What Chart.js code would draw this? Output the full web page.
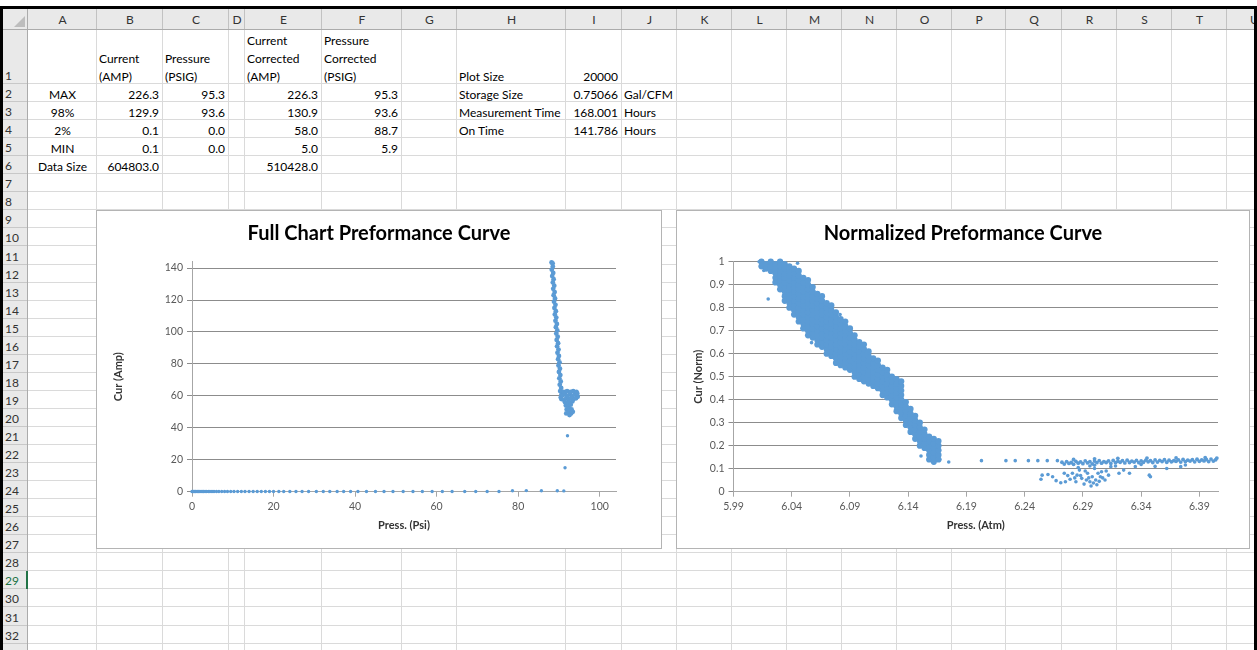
<!DOCTYPE html>
<html><head><meta charset="utf-8">
<script src="https://cdn.jsdelivr.net/npm/chart.js@4.4.1/dist/chart.umd.min.js"></script>
<style>
html,body{margin:0;padding:0;background:#fff;}
body{width:1257px;height:650px;overflow:hidden;position:relative;font-family:Lato,'Open Sans',sans-serif;}
.a{position:absolute;}
.t{position:absolute;font-size:12px;line-height:18px;height:18px;color:#000;white-space:nowrap;}
.box{position:absolute;background:#fff;border:1px solid #b4b4b4;z-index:5;}
.box canvas{position:absolute;left:0;top:0;}
</style></head><body>
<div id="sheet"></div>
<div class="box" style="left:96px;top:210px;width:564px;height:337px;"><canvas id="c1" width="564" height="337"></canvas></div>
<div class="box" style="left:676px;top:210px;width:572px;height:337px;"><canvas id="c2" width="572" height="337"></canvas></div>
<script>
// ---------- Spreadsheet cell contents ----------
const statLabels = ['MAX','98%','2%','MIN','Data Size'];
const currentAmp = ['226.3','129.9','0.1','0.1','604803.0'];
const pressurePsig = ['95.3','93.6','0.0','0.0',''];
const currentCorr = ['226.3','130.9','58.0','5.0','510428.0'];
const pressureCorr = ['95.3','93.6','88.7','5.9',''];
const infoLabels = ['Plot Size','Storage Size','Measurement Time','On Time'];
const infoValues = ['20000','0.75066','168.001','141.786'];
const infoUnits = ['','Gal/CFM','Hours','Hours'];

// ---------- Chart 1: Full Chart Preformance Curve ----------
const fullXTicks = [0,20,40,60,80,100];
const fullYTicks = [0,20,40,60,80,100,120,140];
const fullIdlePress = [0,0.2,0.4,0.6,0.8,1.0,1.3,1.6,1.9,2.2,2.5,2.8,3.2,3.6,4.0,4.4,4.9,5.4,6.0,6.6,7.3,8.0,8.7,9.5,10.3,11.2,12.1,13.0,14.0,15.0,16.0,17.0,18.0,19.0,20.0,21.3,22.5,24.0,25.5,27.0,28.6,30.5,32.2,33.8,35.6,37.2,38.9,40.7,42.8,45.0,47.1,49.3,51.8,54.2,56.5,58.9,61.4,63.8,66.9,69.6,72.4,75.3,78.6,82.0,85.7,89.6,91.2,92.1,91.5];
const fullIdleCur = [0.1,0.1,0.1,0.1,0.1,0.1,0.1,0.1,0.1,0.1,0.1,0.1,0.1,0.1,0.1,0.1,0.1,0.1,0.1,0.1,0.1,0.1,0.1,0.1,0.1,0.1,0.1,0.1,0.1,0.1,0.1,0.1,0.1,0.1,0.1,0.1,0.1,0.1,0.1,0.1,0.1,0.1,0.1,0.1,0.1,0.1,0.1,0.1,0.1,0.1,0.1,0.1,0.1,0.1,0.1,0.1,0.1,0.1,0.1,0.1,0.1,0.1,0.6,0.7,0.6,0.6,0.5,35,15];
const fullRunPress = [88.2,88.45,88.5,88.25,88.6,88.35,88.7,88.5,88.85,88.6,88.95,88.7,89.05,88.8,89.15,88.9,89.25,89.0,89.35,89.15,89.5,89.25,89.6,89.35,89.7,89.45,89.8,89.55,89.9,89.65,90.0,89.8,90.15,89.9,90.25,90.0,90.35,90.1,90.45,90.2,90.55,90.3,90.65,90.45,
  90.6,91.2,91.8,92.4,93.0,93.6,94.2,94.6,90.9,91.5,92.1,92.7,93.3,93.9,94.5,91.2,92.0,92.8,93.5,94.3,91.5,92.4,93.3,
  91.7,92.3,92.9,91.9,92.5,93.1,91.8,92.4,93.0,92.6,93.4];
const fullRunCur = [143.5,143,141,139,137,135,133,131,129,127,125,123,121,119,117,115,113,111,109,107,105,103,101,99,97,95,93,91,89,87,85,83,81,79,77,75,73,71,69,67,65,63,61,59,
  58,57.5,58.5,58,58.5,58,58.5,59.5,60.5,61,60,61,60,61,61.5,62.5,63,62.5,63,62.5,56,56,56.5,
  54,54,54.5,51.5,52,51.5,49,49.5,49,48,50];

// ---------- Chart 2: Normalized Preformance Curve ----------
const normXTicks = [5.99,6.04,6.09,6.14,6.19,6.24,6.29,6.34,6.39];
const normYTicks = [0,0.1,0.2,0.3,0.4,0.5,0.6,0.7,0.8,0.9,1];
const normBandPress = [6.014,6.018,6.022,6.026,6.030,6.034,6.038,6.042,6.046,6.050,6.054,6.058,6.062,6.066,6.070,6.074,6.078,6.082,6.086,6.090,6.094,6.098,6.102,6.106,6.110,6.114,6.118,6.122,6.126,6.130,6.134,6.138,6.142,6.146,6.150,6.154,6.158,6.162,6.166];
const normBandCur = [
  [0.98,1.0],
  [0.97,0.99],
  [0.96,0.98,1.0],
  [0.91,0.93,0.95,0.97,0.99],
  [0.88,0.90,0.92,0.94,0.96,0.98,1.0],
  [0.83,0.85,0.87,0.89,0.91,0.93,0.95,0.97,0.99],
  [0.80,0.82,0.84,0.86,0.88,0.90,0.92,0.94,0.96,0.98],
  [0.77,0.79,0.81,0.83,0.85,0.87,0.89,0.91,0.93,0.95,0.97],
  [0.74,0.76,0.78,0.80,0.82,0.84,0.86,0.88,0.90,0.92,0.94,0.96],
  [0.71,0.73,0.75,0.77,0.79,0.81,0.83,0.85,0.87,0.89,0.91,0.93],
  [0.68,0.70,0.72,0.74,0.76,0.78,0.80,0.82,0.84,0.86,0.88,0.90,0.92],
  [0.67,0.69,0.71,0.73,0.75,0.77,0.79,0.81,0.83,0.85,0.87,0.89],
  [0.64,0.66,0.68,0.70,0.72,0.74,0.76,0.78,0.80,0.82,0.84,0.86],
  [0.63,0.65,0.67,0.69,0.71,0.73,0.75,0.77,0.79,0.81,0.83,0.85],
  [0.60,0.62,0.64,0.66,0.68,0.70,0.72,0.74,0.76,0.78,0.80,0.82],
  [0.59,0.61,0.63,0.65,0.67,0.69,0.71,0.73,0.75,0.77,0.79,0.81],
  [0.56,0.58,0.60,0.62,0.64,0.66,0.68,0.70,0.72,0.74,0.76,0.78],
  [0.55,0.57,0.59,0.61,0.63,0.65,0.67,0.69,0.71,0.73,0.75],
  [0.54,0.56,0.58,0.60,0.62,0.64,0.66,0.68,0.70,0.72,0.74],
  [0.53,0.55,0.57,0.59,0.61,0.63,0.65,0.67,0.69,0.71],
  [0.50,0.52,0.54,0.56,0.58,0.60,0.62,0.64,0.66,0.68],
  [0.49,0.51,0.53,0.55,0.57,0.59,0.61,0.63,0.65],
  [0.48,0.50,0.52,0.54,0.56,0.58,0.60,0.62,0.64],
  [0.47,0.49,0.51,0.53,0.55,0.57,0.59,0.61],
  [0.46,0.48,0.50,0.52,0.54,0.56,0.58],
  [0.45,0.47,0.49,0.51,0.53,0.55,0.57],
  [0.42,0.44,0.46,0.48,0.50,0.52,0.54],
  [0.41,0.43,0.45,0.47,0.49,0.51,0.53],
  [0.38,0.40,0.42,0.44,0.46,0.48,0.50],
  [0.35,0.37,0.39,0.41,0.43,0.45,0.47,0.49],
  [0.32,0.34,0.36,0.38,0.40,0.42,0.44,0.46,0.48],
  [0.29,0.31,0.33,0.35,0.37,0.39],
  [0.26,0.28,0.30,0.32,0.34,0.36],
  [0.23,0.25,0.27,0.29,0.31,0.33],
  [0.20,0.22,0.24,0.26,0.28,0.30],
  [0.19,0.21,0.23,0.25,0.27],
  [0.14,0.16,0.18,0.20,0.22,0.24],
  [0.13,0.15,0.17,0.19,0.21,0.23],
  [0.14,0.16,0.18,0.20,0.22]
];
const normStrayPress = [6.012,6.016,6.0198,6.045,6.049,6.057,6.0815,6.1335,6.151,6.1748,6.167,6.2029,6.2239,6.2319,6.2432,6.2513,6.2594,6.2681];
const normStrayCur = [1.0,0.962,0.838,0.993,0.71,0.648,0.77,0.478,0.155,0.129,0.14,0.135,0.135,0.135,0.135,0.135,0.135,0.135];
const normFlatPress = [6.272,6.276,6.280,6.284,6.288,6.292,6.296,6.300,6.304,6.308,6.312,6.316,6.320,6.324,6.328,6.332,6.336,6.340,6.344,6.348,6.352,6.356,6.360,6.364,6.368,6.372,6.376,6.380,6.384,6.388,6.392,6.396,6.400,6.404,
  6.274,6.278,6.282,6.286,6.290,6.294,6.298,6.302,6.306,6.310,6.314,6.318,6.322,6.326,6.330,6.334,6.338,6.342,6.346,6.350,6.354,6.358,6.362,6.366,6.370,6.374,6.378,6.382,6.386,6.390,6.394,6.398,6.402,
  6.282,6.300,6.320,6.345,6.370,6.395,6.405];
const normFlatCur = [0.128,0.131,0.127,0.132,0.130,0.134,0.131,0.133,0.135,0.131,0.134,0.136,0.132,0.135,0.137,0.133,0.136,0.134,0.137,0.135,0.138,0.136,0.139,0.137,0.135,0.138,0.140,0.137,0.139,0.141,0.138,0.140,0.142,0.139,
  0.120,0.123,0.119,0.124,0.122,0.125,0.121,0.126,0.124,0.127,0.123,0.126,0.128,0.125,0.127,0.129,0.126,0.128,0.130,0.127,0.129,0.131,0.128,0.130,0.132,0.129,0.131,0.133,0.130,0.132,0.134,0.131,0.133,
  0.140,0.143,0.145,0.146,0.147,0.148,0.146];
const normLowPress = [6.254,6.255,6.260,6.264,6.267,6.271,6.275,6.274,6.279,6.281,6.284,6.285,6.287,6.289,6.291,6.293,6.294,6.296,6.297,6.298,6.300,6.301,6.303,6.305,6.306,6.309,6.312,6.314,6.321,6.325,6.330,6.335,6.347,6.348,6.362,6.374,
  6.288,6.292,6.295,6.299,6.302,6.304,6.307,6.283,6.277,6.286,6.296,6.310,6.300,6.318,6.340,6.352,6.378];
const normLowCur = [0.054,0.072,0.075,0.065,0.048,0.039,0.043,0.080,0.054,0.080,0.043,0.072,0.094,0.058,0.033,0.051,0.080,0.043,0.025,0.065,0.101,0.051,0.080,0.065,0.087,0.051,0.072,0.109,0.080,0.094,0.080,0.109,0.072,0.065,0.101,0.109,
  0.070,0.090,0.060,0.038,0.030,0.045,0.060,0.060,0.070,0.105,0.112,0.090,0.115,0.112,0.118,0.110,0.116];

// ---------- Spreadsheet drawing ----------
const sheet = document.getElementById('sheet');
function el(cls, style, text){ const d=document.createElement('div'); d.className=cls; Object.assign(d.style, style); if(text!==undefined) d.textContent=text; sheet.appendChild(d); return d; }
const colEdges=[3,28,97,163,229,245,322,402,457,566,622,677,732,787,842,897,952,1006,1062,1117,1172,1227,1282];
const colNames='ABCDEFGHIJKLMNOPQRSTU'.split('');
const rowEdges=[9,30,84]; for(let r=3;r<=36;r++) rowEdges.push(84+(r-2)*18.05);
const px=v=>v+'px';
el('a',{left:px(3),top:px(9),width:px(1254),height:px(21),background:'#e9e9e9'});
el('a',{left:px(3),top:px(30),width:px(25),height:px(620),background:'#e9e9e9'});
for(let i=2;i<colEdges.length;i++){
  el('a',{left:px(colEdges[i]-1),top:px(30),width:px(1),height:px(620),background:'#dadada'});
  el('a',{left:px(colEdges[i]-1),top:px(9),width:px(1),height:px(21),background:'#c2c2c2'});
}
for(let r=2;r<rowEdges.length;r++){
  const y=Math.round(rowEdges[r])-1;
  el('a',{left:px(28),top:px(y),width:px(1229),height:px(1),background:'#dadada'});
  el('a',{left:px(3),top:px(y),width:px(25),height:px(1),background:'#c8c8c8'});
}
el('a',{left:px(3),top:px(29),width:px(1254),height:px(1),background:'#ababab'});
el('a',{left:px(27),top:px(9),width:px(1),height:px(641),background:'#ababab'});
el('a',{left:px(14),top:px(16),width:'0',height:'0',borderLeft:'11px solid transparent',borderBottom:'11px solid #bdbdbd'});
colNames.forEach((n,i)=>{
  const l=colEdges[i+1], w=colEdges[i+2]-colEdges[i+1];
  el('t',{left:px(l),top:px(11),width:px(w),textAlign:'center',color:'#333'},n);
});
for(let r=1;r<=33;r++){
  const bottom=rowEdges[r+1];
  el('t',{left:px(5),top:px(bottom-18+1),color: r===29?'#217346':'#333'},String(r));
}
el('a',{left:px(26),top:px(Math.round(rowEdges[29])),width:px(2),height:px(18),background:'#217346'});
function cell(c,r,text,align,lineOffset){
  const l=colEdges[c+1], rgt=colEdges[c+2];
  const top=rowEdges[r+1]-18+1.5-(lineOffset||0)*18;
  const st={top:px(top)};
  if(align==='right'){ st.left=px(l-40); st.width=px(rgt-l+40-4); st.textAlign='right'; }
  else if(align==='center'){ st.left=px(l); st.width=px(rgt-l); st.textAlign='center'; }
  else { st.left=px(l+2); }
  el('t',st,text);
}
[['B',['Current','(AMP)']],['C',['Pressure','(PSIG)']],['E',['Current','Corrected','(AMP)']],['F',['Pressure','Corrected','(PSIG)']]].forEach(([col,lines])=>{
  const c=colNames.indexOf(col);
  lines.forEach((t,k)=>cell(c,1,t,'left',lines.length-1-k));
});
statLabels.forEach((t,k)=>cell(0,k+2,t,'center'));
currentAmp.forEach((t,k)=>t&&cell(1,k+2,t,'right'));
pressurePsig.forEach((t,k)=>t&&cell(2,k+2,t,'right'));
currentCorr.forEach((t,k)=>t&&cell(4,k+2,t,'right'));
pressureCorr.forEach((t,k)=>t&&cell(5,k+2,t,'right'));
infoLabels.forEach((t,k)=>cell(7,k+1,t,'left'));
infoValues.forEach((t,k)=>cell(8,k+1,t,'right'));
infoUnits.forEach((t,k)=>t&&cell(9,k+1,t,'left'));
el('a',{left:px(0),top:px(6),width:px(1257),height:px(3),background:'#000',zIndex:20});
el('a',{left:px(0),top:px(6),width:px(3),height:px(644),background:'#000',zIndex:20});
el('a',{left:px(1254),top:px(6),width:px(3),height:px(644),background:'#000',zIndex:20});

// ---------- Charts ----------
Chart.defaults.font.family = 'Lato';
const BLUE = '#5B9BD5';
const pts = (xs, ys) => xs.map((x,i)=>({x, y: ys[i]}));
const normBandPts = [];
normBandPress.forEach((x,i)=>normBandCur[i].forEach(y=>normBandPts.push({x, y})));

function ds(data, r){
  return {data, pointRadius:r, pointHoverRadius:r, pointBorderWidth:0, pointBackgroundColor:BLUE, borderColor:BLUE, backgroundColor:BLUE, showLine:false, clip:6, xAxisID:'x', yAxisID:'y'};
}
function opts(cfg){
  return {
    responsive:false, animation:false, events:[],
    layout:{padding:0},
    plugins:{
      legend:{display:false}, tooltip:{enabled:false},
      title:{display:true,text:cfg.title,color:'#000',font:{size:20,weight:'bold'},padding:{top:10.7,bottom:cfg.titleBottom}}
    },
    scales:{
      x:{type:'linear',min:cfg.xMin,max:cfg.xMax,
        afterBuildTicks:s=>{s.ticks=cfg.xTicks.map(v=>({value:v}));},
        afterFit:s=>{s.height=cfg.xHeight;},
        grid:{drawOnChartArea:false,color:'#a6a6a6',tickLength:5},
        border:{color:'#a6a6a6'},
        ticks:{autoSkip:false,maxRotation:0,color:'#595959',font:{size:10.5},padding:4,callback:v=>String(v)},
        title:{display:true,text:cfg.xTitle,color:'#333',font:{size:11,weight:'bold'},padding:{top:0,bottom:15.5}}
      },
      y:{type:'linear',position:'left',min:cfg.yMin,max:cfg.yMax,
        afterBuildTicks:s=>{s.ticks=cfg.yTicks.map(v=>({value:v}));},
        afterFit:s=>{s.width=cfg.yWidth;},
        grid:{color:'#8c8c8c',tickLength:5},
        border:{color:'#a6a6a6'},
        ticks:{autoSkip:false,color:'#595959',font:{size:10.5},padding:4,callback:v=>String(v)},
        title:{display:true,text:cfg.yTitle,color:'#333',font:{size:11,weight:'bold'},padding:{top:cfg.yTitlePad,bottom:0}}
      },
      // empty right-hand spacer so the plot area ends where Excel's does
      rightSpace:{type:'linear',position:'right',display:true,
        grid:{display:false},border:{display:false},ticks:{display:false},
        afterFit:s=>{s.width=cfg.padRight;}}
    }
  };
}

new Chart(document.getElementById('c1'),{
  type:'scatter',
  data:{datasets:[ds(pts(fullIdlePress,fullIdleCur),1.7), ds(pts(fullRunPress,fullRunCur),2.4)]},
  options:opts({title:'Full Chart Preformance Curve',padRight:45,titleBottom:16,
    xMin:0,xMax:104,xTicks:fullXTicks,xHeight:56.3,xTitle:'Press. (Psi)',
    yMin:0,yMax:144,yTicks:fullYTicks,yWidth:95,yTitle:'Cur (Amp)',yTitlePad:14.4})
});

new Chart(document.getElementById('c2'),{
  type:'scatter',
  data:{datasets:[ds(normBandPts,3.1), ds(pts(normStrayPress,normStrayCur),1.8), ds(pts(normFlatPress,normFlatCur),1.9), ds(pts(normLowPress,normLowCur),1.8)]},
  options:opts({title:'Normalized Preformance Curve',padRight:31,titleBottom:16,
    xMin:5.99,xMax:6.406,xTicks:normXTicks,xHeight:56.3,xTitle:'Press. (Atm)',
    yMin:0,yMax:1,yTicks:normYTicks,yWidth:56.5,yTitle:'Cur (Norm)',yTitlePad:14.9})
});
</script>
</body></html>
